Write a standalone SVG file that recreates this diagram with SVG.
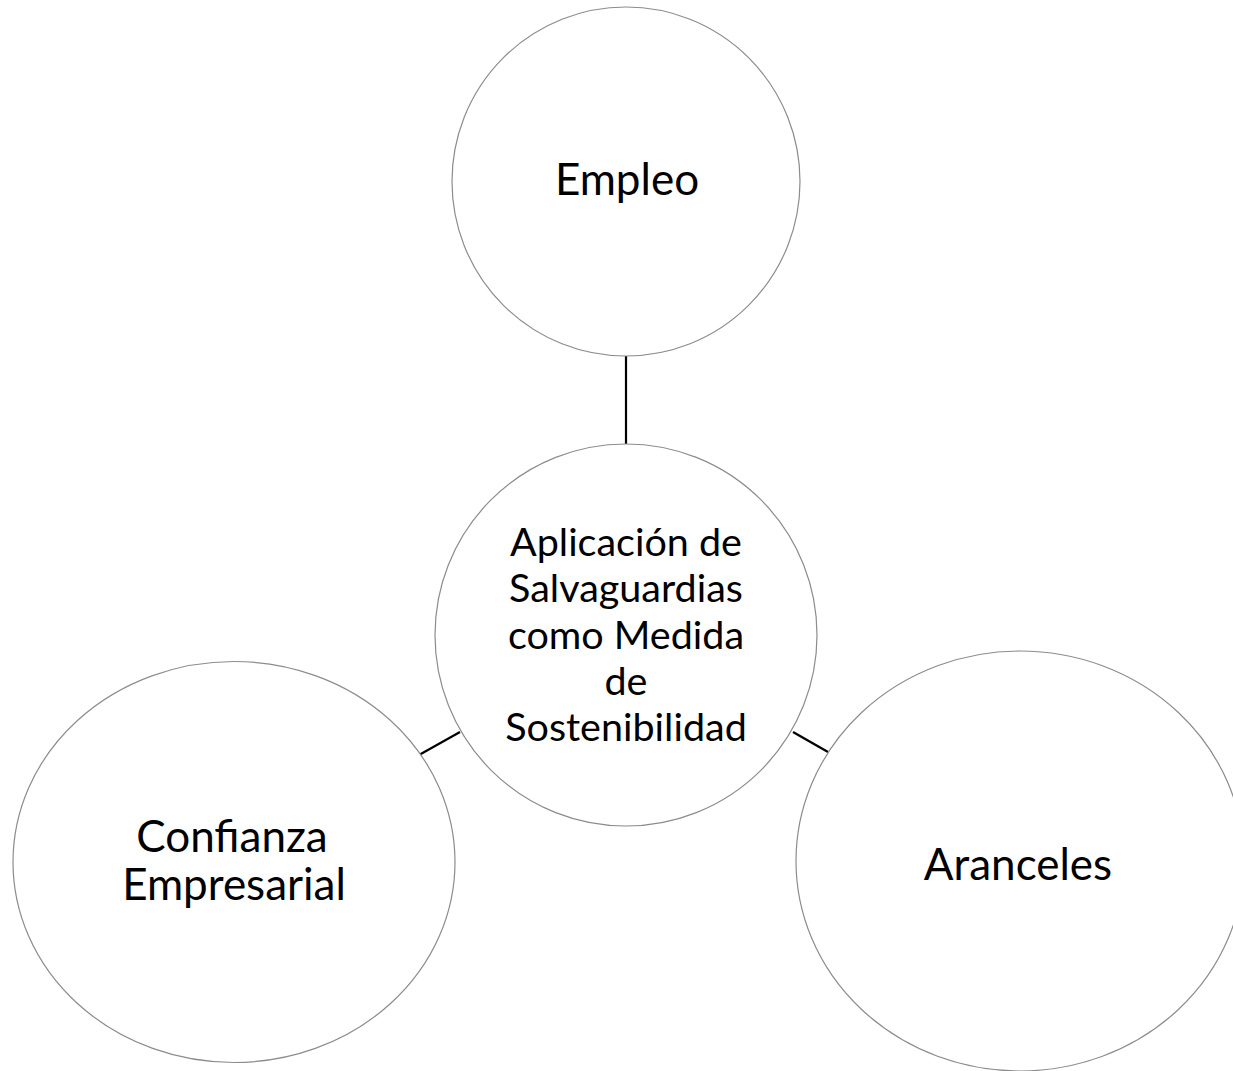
<svg xmlns="http://www.w3.org/2000/svg" width="1233" height="1071" viewBox="0 0 1233 1071">
<style>
.node{fill:#ffffff;stroke:#8c8c8c;stroke-width:1.2}
.lbl{font-family:Lato,"Open Sans","Liberation Sans",sans-serif;font-size:44px;font-weight:400;fill:#000000;text-anchor:middle}
.ctr{font-size:39.5px}
.conn{stroke:#000000;stroke-width:2.2;fill:none}
</style>
<rect width="1233" height="1071" fill="#ffffff"/>
<g id="connectors">
<line class="conn" x1="626" y1="356" x2="626" y2="444"/>
<line class="conn" x1="419" y1="755" x2="460" y2="732"/>
<line class="conn" x1="793" y1="732" x2="828" y2="752"/>
</g>
<g id="node-empleo">
<ellipse class="node" cx="626" cy="181.5" rx="174" ry="174.5"/>
<text class="lbl" x="627" y="195">Empleo</text>
</g>
<g id="node-center">
<circle class="node" cx="626" cy="635" r="191"/>
<text class="lbl ctr" x="626" y="556">Aplicación de</text>
<text class="lbl ctr" x="626" y="602">Salvaguardias</text>
<text class="lbl ctr" x="626" y="649">como Medida</text>
<text class="lbl ctr" x="626" y="695">de</text>
<text class="lbl ctr" x="626" y="741">Sostenibilidad</text>
</g>
<g id="node-confianza">
<ellipse class="node" cx="234" cy="862" rx="221" ry="200.5"/>
<text class="lbl" x="232" y="852">Confianza</text>
<text class="lbl" x="234" y="900">Empresarial</text>
</g>
<g id="node-aranceles">
<ellipse class="node" cx="1020" cy="861" rx="224" ry="210"/>
<text class="lbl" x="1018" y="880">Aranceles</text>
</g>
</svg>
